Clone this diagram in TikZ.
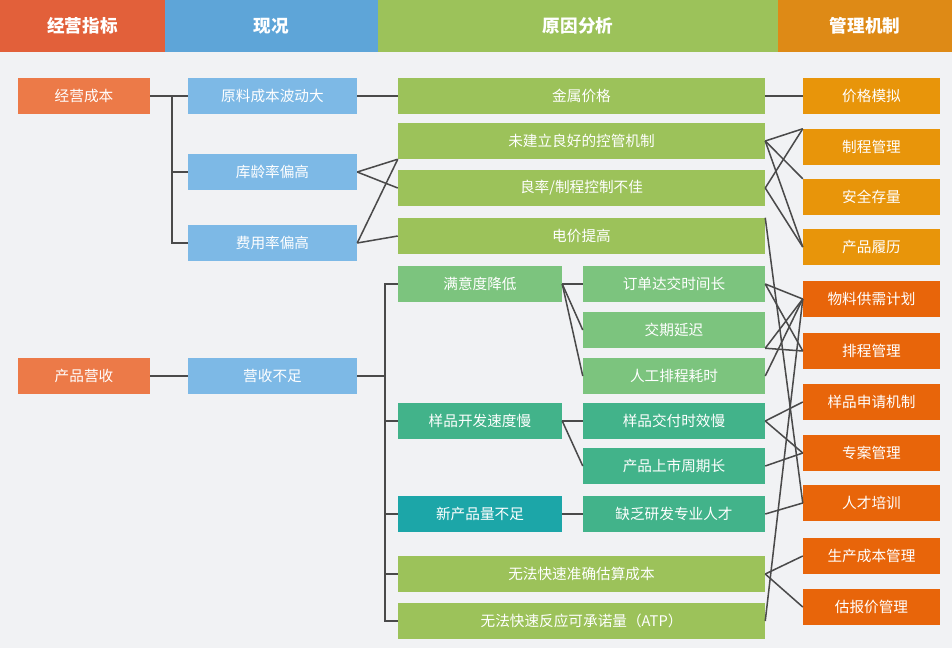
\documentclass[tikz,border=0pt]{standalone}
\usepackage{fontspec}
\setmainfont{Noto Sans CJK SC}
\usepackage{tikz}
\definecolor{bgc}{HTML}{F1F2F4}
\definecolor{hdA}{HTML}{E2603A}
\definecolor{hdB}{HTML}{5EA5D8}
\definecolor{hdC}{HTML}{9CC25A}
\definecolor{hdD}{HTML}{DE8A16}
\definecolor{kpi}{HTML}{EC7A48}
\definecolor{now}{HTML}{7DB9E6}
\definecolor{why}{HTML}{9CC25A}
\definecolor{whyB}{HTML}{7CC47E}
\definecolor{whyC}{HTML}{42B38A}
\definecolor{whyD}{HTML}{1CA6A8}
\definecolor{mgA}{HTML}{E8950A}
\definecolor{mgB}{HTML}{E8650A}
\definecolor{lnc}{HTML}{4A4A4A}

\newcommand{\bx}[6]{\node[box, fill=#5, minimum width={(#3-#2)*0.03cm}] (#1) at ({(#2+#3)/2},#4) {#6};}

\begin{document}
\begin{tikzpicture}[x=0.03cm, y=-0.03cm,
  box/.style={draw=none, minimum height=1.08cm, inner sep=0pt, text=white, font=\fontsize{12.5}{14}\selectfont},
  head/.style={box, minimum height=1.56cm, font=\fontsize{15}{17}\selectfont\bfseries},
  ln/.style={draw=lnc, line width=1.3pt}]
\fill[bgc] (0,0) rectangle (952,648);
\useasboundingbox (0,0) rectangle (952,648);

% headers
\node[head, fill=hdA, minimum width=4.95cm] (hA) at (82.5,26) {经营指标};
\node[head, fill=hdB, minimum width=6.39cm] (hB) at (271.5,26) {现况};
\node[head, fill=hdC, minimum width=12cm] (hC) at (578,26) {原因分析};
\node[head, fill=hdD, minimum width=5.22cm] (hD) at (865,26) {管理机制};

% indicators and status
\bx{cost}{18}{150}{96}{kpi}{经营成本}
\bx{rev}{18}{150}{376}{kpi}{产品营收}
\bx{raw}{188}{357}{96}{now}{原料成本波动大}
\bx{age}{188}{357}{172}{now}{库龄率偏高}
\bx{fee}{188}{357}{243}{now}{费用率偏高}
\bx{low}{188}{357}{376}{now}{营收不足}

% causes
\bx{metal}{398}{765}{96}{why}{金属价格}
\bx{ctrl}{398}{765}{141}{why}{未建立良好的控管机制}
\bx{yield}{398}{765}{188}{why}{良率/制程控制不佳}
\bx{power}{398}{765}{236}{why}{电价提高}
\bx{sat}{398}{562}{284}{whyB}{满意度降低}
\bx{order}{583}{765}{284}{whyB}{订单达交时间长}
\bx{late}{583}{765}{330}{whyB}{交期延迟}
\bx{manual}{583}{765}{376}{whyB}{人工排程耗时}
\bx{dev}{398}{562}{421}{whyC}{样品开发速度慢}
\bx{smp}{583}{765}{421}{whyC}{样品交付时效慢}
\bx{mkt}{583}{765}{466}{whyC}{产品上市周期长}
\bx{newp}{398}{562}{514}{whyD}{新产品量不足}
\bx{rd}{583}{765}{514}{whyC}{缺乏研发专业人才}
\bx{est}{398}{765}{574}{why}{无法快速准确估算成本}
\bx{atp}{398}{765}{621}{why}{无法快速反应可承诺量（ATP）}

% mechanisms
\bx{sim}{803}{940}{96}{mgA}{价格模拟}
\bx{proc}{803}{940}{147}{mgA}{制程管理}
\bx{safe}{803}{940}{197}{mgA}{安全存量}
\bx{hist}{803}{940}{247}{mgA}{产品履历}
\bx{mrp}{803}{940}{299}{mgB}{物料供需计划}
\bx{sched}{803}{940}{351}{mgB}{排程管理}
\bx{apply}{803}{940}{402}{mgB}{样品申请机制}
\bx{proj}{803}{940}{453}{mgB}{专案管理}
\bx{talent}{803}{940}{503}{mgB}{人才培训}
\bx{pcost}{803}{940}{556}{mgB}{生产成本管理}
\bx{quote}{803}{940}{607}{mgB}{估报价管理}

% trees
\coordinate (tA) at (172,96);
\coordinate (tB) at (385,376);
\draw[ln] (cost.east) -- (raw.west);
\draw[ln] (tA) |- (age.west);
\draw[ln] (tA) |- (fee.west);
\draw[ln] (low.west) -- (rev.east);
\draw[ln] (low.east) -- (tB);
\draw[ln] (tB) |- (sat.west);
\draw[ln] (tB) |- (dev.west);
\draw[ln] (tB) |- (newp.west);
\draw[ln] (tB) |- (est.west);
\draw[ln] (tB) |- (atp.west);
\draw[ln] (raw.east) -- (metal.west);
\draw[ln] (age.east) -- (ctrl.south west);
\draw[ln] (age.east) -- (yield.west);
\draw[ln] (fee.east) -- (ctrl.south west);
\draw[ln] (fee.east) -- (power.west);
\draw[ln] (sat.east) -- (order.west);
\draw[ln] (sat.east) -- (late.west);
\draw[ln] (sat.east) -- (manual.west);
\draw[ln] (dev.east) -- (smp.west);
\draw[ln] (dev.east) -- (mkt.west);
\draw[ln] (newp.east) -- (rd.west);

% causes to mechanisms
\draw[ln] (metal.east) -- (sim.west);
\draw[ln] (ctrl.east) -- (proc.north west);
\draw[ln] (ctrl.east) -- (safe.north west);
\draw[ln] (ctrl.east) -- (hist.west);
\draw[ln] (yield.east) -- (proc.north west);
\draw[ln] (yield.east) -- (hist.west);
\draw[ln] (power.north east) -- (talent.west);
\draw[ln] (order.east) -- (mrp.west);
\draw[ln] (order.east) -- (sched.west);
\draw[ln] (late.south east) -- (mrp.west);
\draw[ln] (late.south east) -- (sched.west);
\draw[ln] (manual.east) -- (mrp.west);
\draw[ln] (smp.east) -- (apply.west);
\draw[ln] (smp.east) -- (proj.west);
\draw[ln] (mkt.east) -- (proj.west);
\draw[ln] (rd.east) -- (talent.west);
\draw[ln] (est.east) -- (pcost.west);
\draw[ln] (est.east) -- (quote.west);
\draw[ln] (atp.east) -- (mrp.west);
\end{tikzpicture}
\end{document}
